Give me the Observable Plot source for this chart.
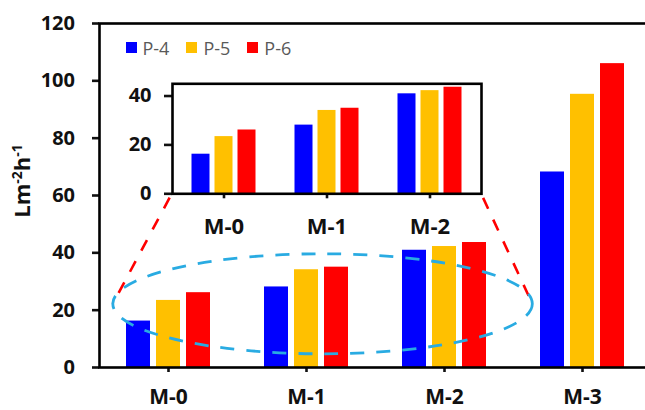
<!DOCTYPE html>
<html>
<head>
<meta charset="utf-8">
<script src="https://cdn.jsdelivr.net/npm/d3@7"></script>
<script src="https://cdn.jsdelivr.net/npm/@observablehq/plot@0.6"></script>
<style>
  html, body { margin: 0; padding: 0; background: #fff; overflow: hidden; width: 645px; height: 410px; }
  #wrap { position: relative; width: 645px; height: 410px; overflow: hidden; }
  #wrap > * { position: absolute; }
  #wrap svg { max-width: none !important; }
  #legend > div { min-height: 0 !important; margin: 0 !important; line-height: 24px; }
  #legend span { margin-right: 17px !important; }
  #legend span > svg { margin-right: 6px !important; }
</style>
</head>
<body>
<div id="wrap"><div id="legend"></div></div>
<script>
// ---- data ----
const categories = ["M-0", "M-1", "M-2", "M-3"];
const insetCategories = ["M-0", "M-1", "M-2"];
const series = ["P-4", "P-5", "P-6"];
const p4 = [16.2, 28.1, 40.9, 68.2];
const p5 = [23.4, 34.1, 42.2, 95.3];
const p6 = [26.1, 35.0, 43.6, 106.0];
const yTicks = [0, 20, 40, 60, 80, 100, 120];
const insetTicks = [0, 20, 40];
const colors = ["#0000FF", "#FFC000", "#FF0000"];
const yTitle = ["Lm", "-2", "h", "-1"];
// zoom window (data units) marked by the dashed ellipse
const zoomLow = 4.6, zoomHigh = 39.5;

const seriesValues = [p4, p5, p6];
const rows = categories.flatMap((c, i) => series.map((s, j) => ({category: c, series: s, value: seriesValues[j][i]})));
const insetRows = rows.filter(d => insetCategories.includes(d.category));

const fontFamily = "'Open Sans', 'Liberation Sans', sans-serif";
const ink = "#111";

function frameMark() {
  return Plot.frame({facet: "super", stroke: "#000", strokeWidth: 2.6});
}

const main = Plot.plot({
  width: 652, height: 410,
  marginLeft: 98, marginRight: 0, marginTop: 23, marginBottom: 43,
  style: {fontFamily, fontSize: "20px", fontWeight: "bold", color: ink, background: "#fff", overflow: "visible"},
  fx: {domain: categories, padding: 0, label: null},
  x: {domain: series, paddingInner: 0.21, paddingOuter: 0.87, axis: null},
  y: {domain: [0, 120], label: null},
  color: {domain: series, range: colors},
  marks: [
    Plot.barY(rows, {fx: "category", x: "series", y: "value", fill: "series"}),
    Plot.axisY({ticks: yTicks, tickSize: 7, tickPadding: 17.5, strokeWidth: 2.6, label: null}),
    Plot.axisFx({anchor: "bottom", tickSize: 5, tickPadding: 16.5, strokeWidth: 2.6, fontSize: 21, label: null}),
    frameMark()
  ]
});
main.style.left = "0px"; main.style.top = "0px";
document.getElementById("wrap").prepend(main);

// y-axis title with superscripts
const t = d3.select(main).append("text")
  .attr("transform", "translate(30,181) rotate(-90)")
  .attr("text-anchor", "middle")
  .attr("font-size", 22).attr("font-weight", "bold").attr("fill", ink);
t.append("tspan").text(yTitle[0]);
t.append("tspan").attr("dy", -8).attr("font-size", 14).text(yTitle[1]);
t.append("tspan").attr("dy", 8).text(yTitle[2]);
t.append("tspan").attr("dy", -8).attr("font-size", 14).text(yTitle[3]);

// inset chart
const insetLeft = 100, insetTop = 60;
const inset = Plot.plot({
  width: 400, height: 180,
  marginLeft: 71.5, marginRight: 18.5, marginTop: 23.3, marginBottom: 46.7,
  style: {fontFamily, fontSize: "20px", fontWeight: "bold", color: ink, background: "transparent", overflow: "visible"},
  fx: {domain: insetCategories, padding: 0, label: null},
  x: {domain: series, paddingInner: 0.215, paddingOuter: 0.82, axis: null},
  y: {domain: [0, 45], label: null},
  color: {domain: series, range: colors},
  marks: [
    Plot.barY(insetRows, {fx: "category", x: "series", y: "value", fill: "series"}),
    Plot.axisY({ticks: insetTicks, tickSize: 8, tickPadding: 13, strokeWidth: 2.6, label: null}),
    Plot.axisFx({anchor: "bottom", tickSize: 5, tickPadding: 19.5, strokeWidth: 2.6, fontSize: 22, label: null}),
    frameMark()
  ]
});
inset.style.left = insetLeft + "px"; inset.style.top = insetTop + "px";
document.getElementById("wrap").appendChild(inset);

// annotation overlay: dashed ellipse and connector lines
const fxM = main.scale("fx"), yM = main.scale("y");
const fxI = inset.scale("fx"), yI = inset.scale("y");
const stepM = fxM.step ?? (fxM.apply("M-1") - fxM.apply("M-0"));
const stepI = fxI.step ?? (fxI.apply("M-1") - fxI.apply("M-0"));
const eLeft = fxM.apply("M-0") + 0.1 * stepM;
const eRight = fxM.apply("M-3") + 0.14 * stepM;
const eTop = yM.apply(zoomHigh), eBottom = yM.apply(zoomLow);
const cx = (eLeft + eRight) / 2, cy = (eTop + eBottom) / 2;

const ov = d3.select("#wrap").append("svg")
  .attr("width", 645).attr("height", 410)
  .style("left", "0px").style("top", "0px").style("pointer-events", "none");

const cornerY = insetTop + yI.apply(0);
const corners = [
  [insetLeft + fxI.apply("M-0"), cornerY, eLeft, cy],
  [insetLeft + fxI.apply("M-2") + stepI, cornerY, eRight, cy]
];
for (const [x1, y1, x2, y2] of corners) {
  const len = Math.hypot(x2 - x1, y2 - y1);
  const ux = (x2 - x1) / len, uy = (y2 - y1) / len;
  ov.append("line")
    .attr("x1", x1 + 5 * ux).attr("y1", y1 + 5 * uy)
    .attr("x2", x2).attr("y2", y2)
    .attr("stroke", "#FF0000").attr("stroke-width", 2.6)
    .attr("stroke-dasharray", "12 12");
}
ov.append("ellipse")
  .attr("cx", cx).attr("cy", cy)
  .attr("rx", (eRight - eLeft) / 2).attr("ry", (eBottom - eTop) / 2)
  .attr("fill", "none").attr("stroke", "#29ABE2").attr("stroke-width", 2.8)
  .attr("stroke-dasharray", "14 12");

// legend
const legend = Plot.legend({
  color: {domain: series, range: colors},
  legend: "swatches", swatchSize: 11,
  style: {fontFamily, fontSize: "18px", color: "#595959", fontWeight: "normal"}
});
const lg = document.getElementById("legend");
lg.style.left = "125.5px"; lg.style.top = "35.5px"; lg.style.zIndex = 5;
lg.appendChild(legend);
document.getElementById("wrap").appendChild(lg);
</script>
</body>
</html>
